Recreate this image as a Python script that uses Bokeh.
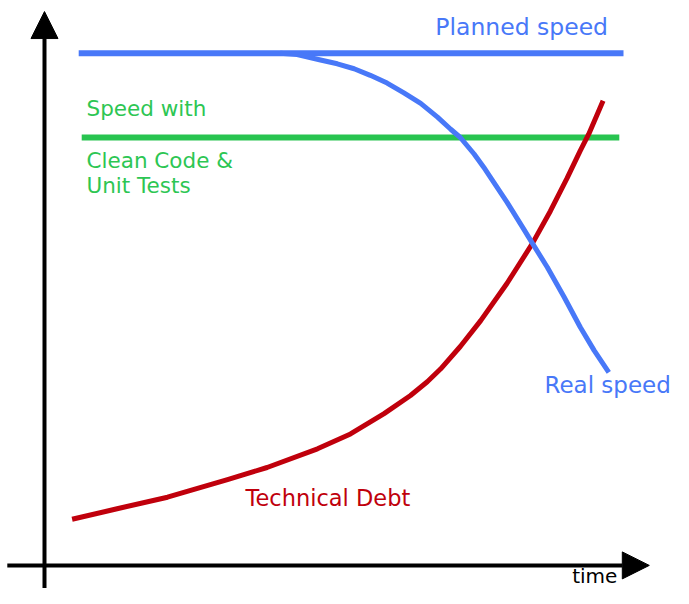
from bokeh.plotting import figure
from bokeh.models import Range1d, Arrow, NormalHead, ColumnDataSource
from bokeh.core.properties import value
from bokeh.embed import file_html
from bokeh.resources import INLINE

# ---- data (time units 0..100, level units 0..100) ----
planned_time = [5.7, 96.5]
planned_speed = [93.3, 93.3]

clean_time = [6.2, 95.8]
clean_speed = [78.0, 78.0]

real_time = [39.3, 42.1, 46.0, 48.8, 51.6, 54.3, 57.1, 59.9, 62.7, 65.5,
             67.7, 69.3, 71.6, 73.2, 74.3, 77.1, 79.9, 81.3, 83.8, 86.6,
             89.3, 91.6, 94.05]
real_speed = [93.3, 93.1, 92.1, 91.4, 90.5, 89.3, 87.9, 86.1, 84.2, 81.7,
              79.5, 78.0, 75.0, 72.6, 70.8, 66.2, 61.3, 58.8, 54.4, 49.0,
              43.5, 39.3, 35.3]

debt_time = [4.6, 12.1, 20.5, 30.5, 37.1, 45.5, 51.0, 56.6, 61.0, 63.8,
             66.0, 69.3, 72.7, 77.1, 81.3, 84.3, 87.1, 89.3, 90.7, 93.1]
debt_level = [8.6, 10.5, 12.6, 15.8, 18.0, 21.4, 24.1, 27.8, 31.1, 33.6,
              35.9, 40.0, 44.7, 51.5, 58.7, 64.6, 70.6, 75.6, 78.6, 84.7]

label_text = ["Planned speed", "Speed with", "Clean Code &", "Unit Tests",
              "Technical Debt", "Real speed", "time"]
label_time = [65.13, 7.0, 7.0, 7.0, 33.5, 83.33, 87.95]
label_level = [98.0, 83.25, 73.85, 69.25, 12.45, 33.05, -1.64]

BLUE = "#4878F8"
GREEN = "#28C450"
RED = "#C0000C"

p = figure(width=673, height=588, output_backend="svg", toolbar_location=None,
           x_range=Range1d(-7.3333, 104.8333), y_range=Range1d(-4.0, 102.909),
           min_border=0, outline_line_color=None, background_fill_color="white")
p.axis.visible = False
p.grid.visible = False

# axes with arrows
p.add_layout(Arrow(end=NormalHead(size=27, fill_color="black", line_color="black", line_width=1),
                   x_start=0, y_start=-6, x_end=0, y_end=100.9,
                   line_width=4, line_color="black"))
p.add_layout(Arrow(end=NormalHead(size=27, fill_color="black", line_color="black", line_width=1),
                   x_start=-6.2, y_start=0.2, x_end=100.8, y_end=0.2,
                   line_width=4, line_color="black"))

p.line(clean_time, clean_speed, line_color=GREEN, line_width=6)
p.line(planned_time, planned_speed, line_color=BLUE, line_width=6)
p.line(debt_time, debt_level, line_color=RED, line_width=5, line_join="round")
p.line(real_time, real_speed, line_color=BLUE, line_width=5, line_join="round")

colors = [BLUE, "#2DC653", "#2DC653", "#2DC653", RED, BLUE, "black"]
sizes = ["23.5px", "21.5px", "21.5px", "21.5px", "22.5px", "23px", "20px"]
src = ColumnDataSource(dict(x=label_time, y=label_level, text=label_text,
                            color=colors, size=sizes))
p.text(x="x", y="y", text="text", source=src, text_color="color",
       text_font_size="size", text_font=value("DejaVu Sans"),
       text_align="left", text_baseline="alphabetic")

open("out.html", "w").write(file_html(p, INLINE))
